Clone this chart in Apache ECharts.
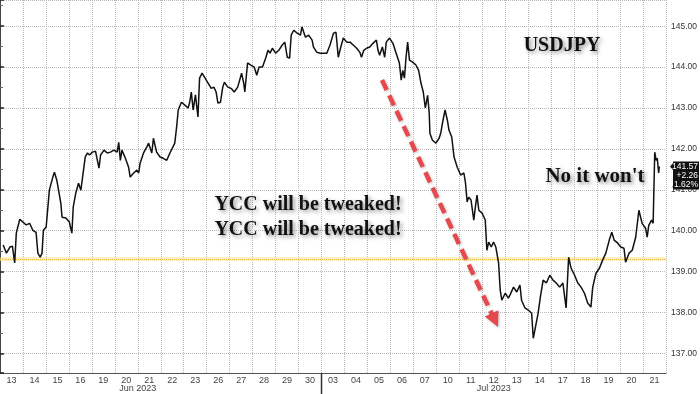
<!DOCTYPE html>
<html><head><meta charset="utf-8">
<script src="https://cdn.jsdelivr.net/npm/echarts@6/dist/echarts.min.js"></script>
<style>html,body{margin:0;padding:0;background:#fff}#c{width:700px;height:394px}</style>
</head><body><div id="c"></div>
<script>
// Trading-day labels (Jun 13 .. Jul 21, 2023)
const dayLabels = ['13','14','15','16','19','20','21','22','23','26','27','28','29','30',
                   '03','04','05','06','07','10','11','12','13','14','17','18','19','20','21'];
const monthLabels = ['Jun 2023','Jul 2023'];
const monthLabelPos = [6, 21.5];      // in trading-day units
const monthBreak = 14;                // Jun 30 -> Jul 03 boundary

// intraday position (trading days from start) and USDJPY price
const dayPos = [0.14,0.28,0.43,0.54,0.64,0.71,0.86,1.00,1.14,1.29,
1.43,1.57,1.65,1.75,1.83,1.89,2.01,2.08,2.15,2.30,
2.37,2.47,2.55,2.65,2.70,2.87,3.02,3.13,3.19,3.30,
3.42,3.52,3.59,3.71,3.81,3.90,4.02,4.16,4.31,4.38,
4.53,4.67,4.81,4.96,5.10,5.17,5.24,5.31,5.46,5.60,
5.67,5.82,5.96,6.04,6.10,6.25,6.39,6.47,6.61,6.68,
6.82,6.97,7.11,7.26,7.40,7.47,
7.61,7.69,7.76,7.90,8.05,8.19,8.26,8.33,8.41,8.51,
8.62,8.69,8.80,8.91,9.06,9.20,9.31,9.41,9.49,9.60,
9.70,9.77,9.92,10.06,10.20,10.35,10.52,10.61,10.66,10.78,
10.92,11.07,11.18,11.28,11.43,11.57,11.67,11.76,11.86,12.00,
12.14,12.29,12.40,12.51,12.61,12.68,12.79,12.94,13.08,13.15,
13.30,13.44,13.59,13.65,13.80,13.94,14.09,14.23,14.37,14.52,
14.63,14.73,14.84,
14.95,15.10,15.24,15.38,15.53,15.67,15.74,15.84,15.96,16.10,
16.24,16.39,16.46,16.53,16.65,16.75,16.82,16.96,17.11,17.25,
17.39,17.47,17.54,17.61,17.68,17.75,17.83,17.97,18.11,18.23,
18.33,18.43,18.52,18.62,18.69,18.72,18.83,18.98,19.12,19.19,
19.29,19.38,19.48,19.55,19.67,19.77,19.91,20.06,20.20,20.27,
20.34,20.41,20.51,20.63,20.70,20.77,20.85,20.99,21.13,21.20,
21.28,21.39,21.49,21.59,21.71,21.78,21.85,22.00,22.14,
22.21,22.36,22.50,22.64,22.71,22.86,23.00,23.15,23.22,23.29,
23.43,23.53,23.65,23.79,23.94,24.08,24.22,24.37,24.51,24.65,
24.76,24.87,25.02,25.16,25.30,25.45,25.59,25.73,25.81,25.95,
26.10,26.24,26.38,26.53,26.64,26.74,26.89,27.03,27.17,27.24,
27.39,27.53,27.68,27.82,27.96,28.11,28.18,28.25,28.37,28.44,
28.51,28.57,28.62,28.68,28.71];

const usdjpy = [139.65,139.45,139.60,139.62,139.21,139.94,140.28,140.21,140.14,140.18,
140.01,139.96,139.45,139.35,139.45,140.01,140.09,140.09,140.99,141.31,
141.43,141.24,140.99,140.67,140.33,140.31,140.21,139.94,140.58,140.92,
141.16,140.99,141.28,141.80,141.90,141.85,141.92,141.94,141.53,141.85,
141.97,141.90,141.92,141.97,141.92,142.16,141.72,141.97,141.77,141.55,
141.31,141.41,141.48,141.41,141.65,141.90,142.04,142.14,141.90,142.26,
141.92,141.80,141.77,141.72,141.90,141.92,
142.14,142.53,142.95,143.14,143.07,143.00,143.14,143.39,142.95,143.32,
142.78,143.73,143.85,143.75,143.61,143.48,143.51,143.39,143.12,143.14,
143.51,143.63,143.51,143.48,143.39,143.51,143.85,143.61,143.39,144.10,
144.05,144.00,143.80,144.00,144.00,144.22,144.41,144.34,144.46,144.34,
144.41,144.54,144.61,144.24,144.22,144.78,144.90,144.83,144.78,144.98,
144.73,144.78,144.66,144.49,144.36,144.34,144.34,144.34,144.54,144.83,
144.85,144.24,144.49,
144.71,144.61,144.61,144.54,144.46,144.36,144.24,144.41,144.46,144.49,
144.58,144.66,144.41,144.29,144.49,144.24,144.61,144.71,144.58,144.34,
144.10,143.68,143.92,143.73,144.24,144.61,144.17,144.12,144.05,143.92,
143.61,143.39,143.00,143.31,142.87,142.38,142.21,142.14,142.26,142.38,
142.70,142.95,142.70,142.46,142.29,141.80,141.55,141.36,141.41,141.16,
140.70,140.82,140.75,140.26,140.58,140.87,140.50,140.43,140.26,139.52,
139.72,139.60,139.72,139.60,139.21,138.55,138.30,138.47,138.35,
138.43,138.62,138.50,138.67,138.30,138.11,138.06,137.98,137.37,137.57,
137.98,138.38,138.79,138.72,138.91,138.79,138.72,138.62,138.72,138.11,
139.35,139.08,138.91,138.72,138.62,138.47,138.23,138.13,138.62,138.96,
139.08,139.28,139.45,139.77,139.96,139.77,139.70,139.60,139.57,139.23,
139.45,139.52,139.84,140.50,140.18,140.06,139.84,140.13,140.26,140.18,
141.92,141.72,141.77,141.41,141.57];

const prevClose = 139.31;
const yMin = 136.52, yMax = 145.64;

const chart = echarts.init(document.getElementById('c'), null, {renderer:'canvas'});
const seriesData = dayPos.map((d, i) => [d, usdjpy[i]]);
const last = usdjpy[usdjpy.length - 1];
const chg = last - prevClose;
const pct = chg / prevClose * 100;

const shadow = {
  shadowColor:'rgba(0,0,0,0.45)', shadowBlur:4, shadowOffsetX:2, shadowOffsetY:2,
  textShadowColor:'rgba(0,0,0,0.45)', textShadowBlur:4, textShadowOffsetX:2, textShadowOffsetY:2
};
const serif = 'bold 20px "Liberation Serif", "DejaVu Serif", serif';

chart.setOption({
  animation:false,
  backgroundColor:'#ffffff',
  grid:{left:-3.2, right:31, top:0, bottom:21, containLabel:false},
  xAxis:[
    {type:'category', data:dayLabels, boundaryGap:true, position:'bottom',
     axisLine:{show:true, lineStyle:{color:'#555', width:1}},
     axisTick:{show:false},
     axisLabel:{fontFamily:'Liberation Sans', fontSize:9, color:'#444', margin:3, interval:0},
     splitLine:{show:true, interval:0, lineStyle:{type:'dotted', color:'#b8b8b8', width:1}}},
    {type:'value', min:0, max:29, show:false}
  ],
  yAxis:{type:'value', position:'right', min:yMin, max:yMax, splitNumber:9, scale:true,
    axisLine:{show:true, lineStyle:{color:'#444', width:1}},
    axisTick:{show:true, length:4, lineStyle:{color:'#222', width:1.5}},
    minorTick:{show:true, splitNumber:2, length:3, lineStyle:{color:'#666', width:1}},
    axisLabel:{fontFamily:'Liberation Sans', fontSize:8.5, color:'#333', margin:5,
      showMinLabel:false, showMaxLabel:false,
      formatter:v => v.toFixed(2)},
    splitLine:{show:true, lineStyle:{type:'dotted', color:'#b8b8b8', width:1}}
  },
  series:[{
    type:'line', xAxisIndex:1, yAxisIndex:0, data:seriesData, showSymbol:false,
    lineStyle:{color:'#111', width:1.5}, z:5,
    markLine:{symbol:'none', silent:true, label:{show:false},
      data:[
        {yAxis:prevClose, lineStyle:{color:'rgba(250,225,140,0.55)', type:'solid', width:4}},
        {yAxis:prevClose, lineStyle:{color:'#e6b84a', type:'dotted', width:1}}
      ]}
  }]
});

// annotations positioned from the axes
const xs = d => chart.convertToPixel({xAxisIndex:1}, d);
const ys = v => chart.convertToPixel({yAxisIndex:0}, v);
const axisY = ys(yMin);
const py = ys(last);

// arrow
const ax1 = 382, ay1 = 80, tx = 498, ty = 327;
const L = Math.hypot(tx-ax1, ty-ay1), ux = (tx-ax1)/L, uy = (ty-ay1)/L;
const bx = tx - 15*ux, by = ty - 15*uy, px = -uy*7.5, pyy = ux*7.5;

const graphics = [
  {type:'line', z:20, shape:{x1:ax1, y1:ay1, x2:bx+ux*2, y2:by+uy*2},
   style:{stroke:'#e5484d', lineWidth:4.5, lineDash:[11,6], shadowColor:'rgba(0,0,0,0.25)', shadowBlur:3, shadowOffsetX:1, shadowOffsetY:1}},
  {type:'polygon', z:20, shape:{points:[[tx,ty],[bx+px,by+pyy],[bx-px,by-pyy]]},
   style:{fill:'#e5484d', shadowColor:'rgba(0,0,0,0.25)', shadowBlur:3, shadowOffsetX:1, shadowOffsetY:1}},
  {type:'text', z:30, x:562, y:46, style:Object.assign({text:'USDJPY', font:serif, fill:'#111', align:'center', verticalAlign:'middle'}, shadow)},
  {type:'text', z:30, x:308, y:205, style:Object.assign({text:'YCC will be tweaked!', font:serif, fill:'#111', align:'center', verticalAlign:'middle'}, shadow)},
  {type:'text', z:30, x:308, y:230, style:Object.assign({text:'YCC will be tweaked!', font:serif, fill:'#111', align:'center', verticalAlign:'middle'}, shadow)},
  {type:'text', z:30, x:595, y:177, style:Object.assign({text:"No it won't", font:'bold 21px "Liberation Serif", serif', fill:'#111', align:'center', verticalAlign:'middle'}, shadow)},
  // month separator + month labels
  {type:'line', z:10, shape:{x1:xs(monthBreak), y1:axisY, x2:xs(monthBreak), y2:394}, style:{stroke:'#333', lineWidth:1.5}},
  {type:'text', z:10, x:xs(monthLabelPos[0]), y:389, style:{text:monthLabels[0], font:'9px "Liberation Sans"', fill:'#444', align:'center', verticalAlign:'middle'}},
  {type:'text', z:10, x:xs(monthLabelPos[1]), y:389, style:{text:monthLabels[1], font:'9px "Liberation Sans"', fill:'#444', align:'center', verticalAlign:'middle'}},
  // last price box
  {type:'polygon', z:40, shape:{points:[[670,py],[673,py-3.5],[673,py-5],[699,py-5],[699,py+23],[673,py+23],[673,py+3.5]]}, style:{fill:'#111'}},
  {type:'text', z:41, x:698, y:py, style:{text:last.toFixed(2), font:'8.5px "Liberation Sans"', fill:'#fff', align:'right', verticalAlign:'middle'}},
  {type:'text', z:41, x:698, y:py+9, style:{text:(chg>=0?'+':'')+chg.toFixed(2), font:'8.5px "Liberation Sans"', fill:'#fff', align:'right', verticalAlign:'middle'}},
  {type:'text', z:41, x:698, y:py+18, style:{text:pct.toFixed(2)+'%', font:'8.5px "Liberation Sans"', fill:'#fff', align:'right', verticalAlign:'middle'}}
];
chart.setOption({graphic:graphics});
</script>
</body></html>
